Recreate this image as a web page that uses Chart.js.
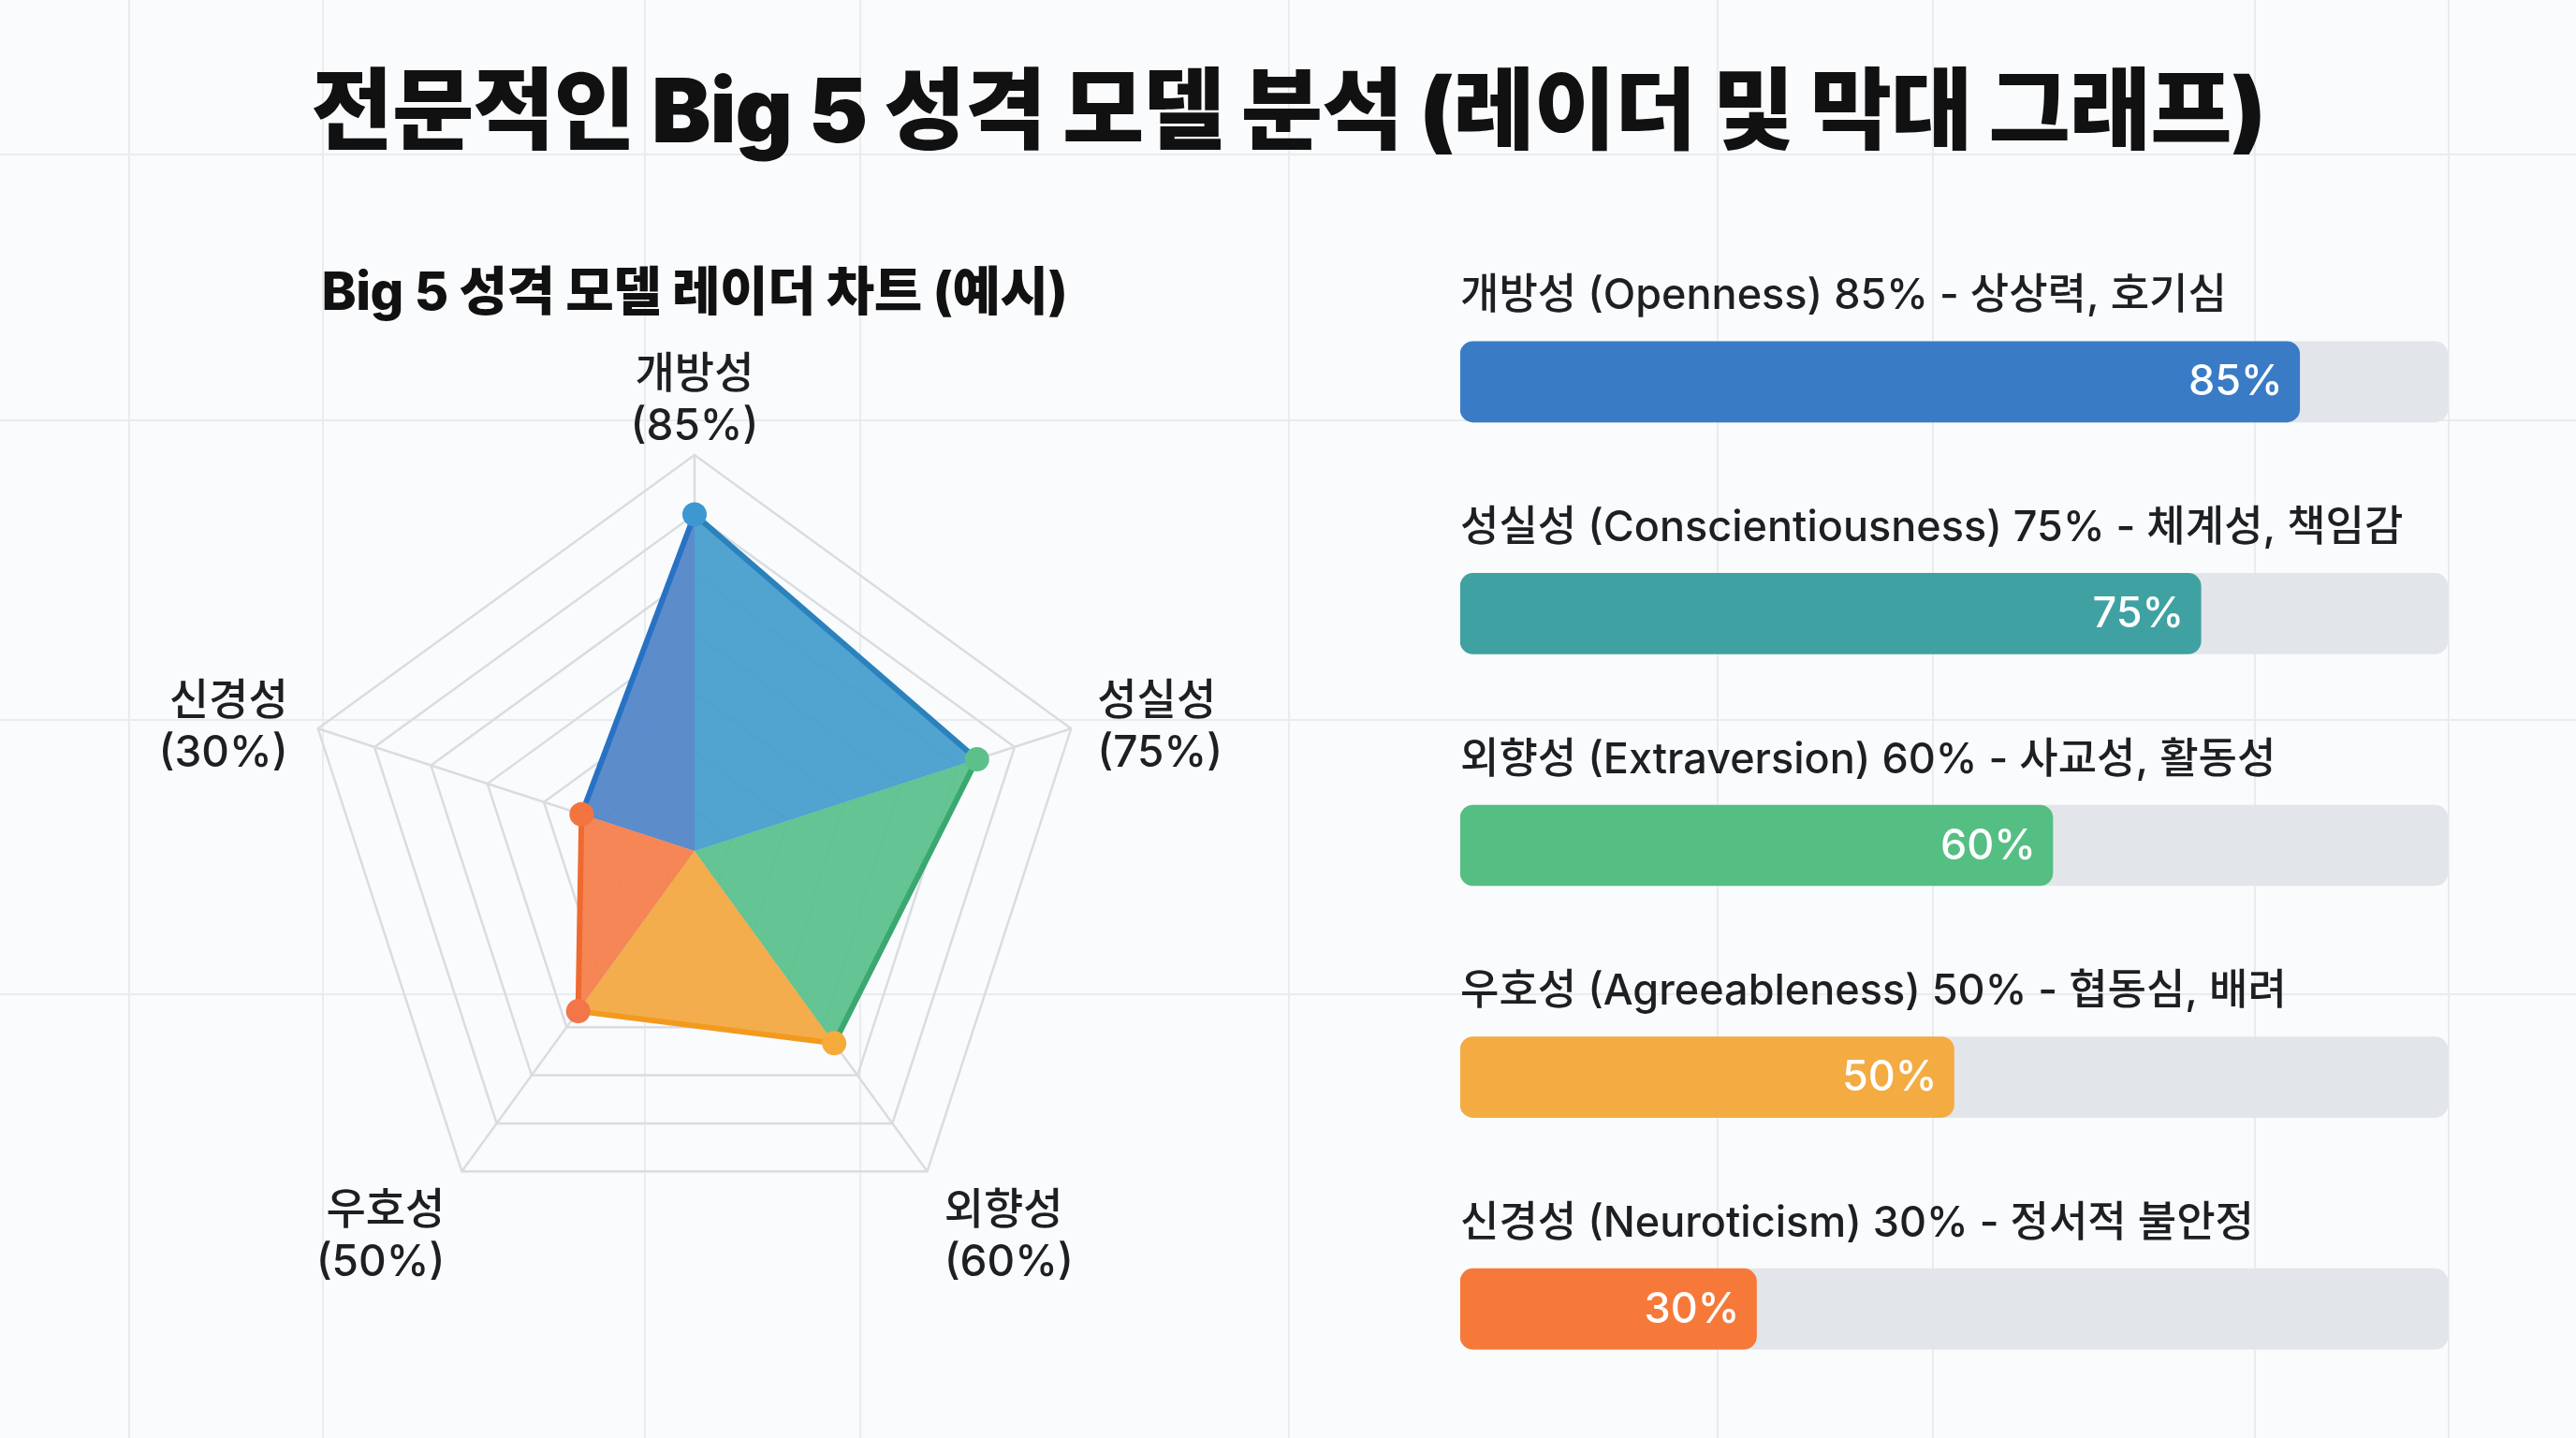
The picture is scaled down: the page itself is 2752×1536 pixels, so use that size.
<!DOCTYPE html>
<html lang="ko">
<head>
<meta charset="utf-8">
<title>전문적인 Big 5 성격 모델 분석</title>
<script src="https://cdn.jsdelivr.net/npm/chart.js@4.4.1/dist/chart.umd.min.js"></script>
<style>
    html, body { margin: 0; padding: 0; }
    body {
        width: 2752px; height: 1536px; overflow: hidden; position: relative;
        background: #fafbfc;
        font-family: Inter, "Noto Sans CJK KR", sans-serif; color: #111;
    }
    .gl { position: absolute; background: #e9ecef; }
    .gl.v { top: 0; bottom: 0; width: 2px; }
    .gl.h { left: 0; right: 0; height: 2px; }
    #title {
        position: absolute; left: 0; width: 2752px; top: 70px; margin: 0;
        text-align: center; font-size: 95px; font-weight: 900; line-height: 1;
        letter-spacing: -1px;
    }
    #radarTitle {
        position: absolute; left: 0; width: 1484px; top: 283px;
        text-align: center; font-size: 56px; font-weight: 800; line-height: 1;
        letter-spacing: -0.5px;
    }
    #radarBox { position: absolute; left: 0; top: 330px; width: 1484px; height: 1088px; }
    #barBox { position: absolute; left: 1540px; top: 240px; width: 1110px; height: 1296px; }
</style>
</head>
<body>
<div class="gl v" style="left:137px"></div>
<div class="gl v" style="left:344px"></div>
<div class="gl v" style="left:688px"></div>
<div class="gl v" style="left:918px"></div>
<div class="gl v" style="left:1376px"></div>
<div class="gl v" style="left:1834px"></div>
<div class="gl v" style="left:2064px"></div>
<div class="gl v" style="left:2408px"></div>
<div class="gl v" style="left:2615px"></div>
<div class="gl h" style="top:164px"></div>
<div class="gl h" style="top:448px"></div>
<div class="gl h" style="top:768px"></div>
<div class="gl h" style="top:1061px"></div>

<h1 id="title">전문적인 Big 5 성격 모델 분석 (레이더 및 막대 그래프)</h1>
<div id="radarTitle">Big 5 성격 모델 레이더 차트 (예시)</div>
<div id="radarBox"><canvas id="radarChart"></canvas></div>
<div id="barBox"><canvas id="barChart"></canvas></div>

<script>
// data
const traitKo = ['개방성', '성실성', '외향성', '우호성', '신경성'];
const traitEn = ['Openness', 'Conscientiousness', 'Extraversion', 'Agreeableness', 'Neuroticism'];
const traitValues = [85, 75, 60, 50, 30];
const traitKeywords = ['상상력, 호기심', '체계성, 책임감', '사교성, 활동성', '협동심, 배려', '정서적 불안정'];
const radarRings = [0, 10, 25, 40, 55, 70, 85, 100];
const trackMax = [100, 100, 100, 100, 100];

// colours
const sectorColors = ['rgba(72,158,206,0.95)', 'rgba(92,193,141,0.95)', 'rgba(243,169,66,0.95)',
    'rgba(245,128,76,0.95)', 'rgba(84,134,200,0.95)'];
const outlineColors = ['#2a82bd', '#3aa86f', '#f29a1e', '#ee6a30', '#2772c4'];
const pointColors = ['#3d97d0', '#5cc08a', '#f5ab3a', '#f2764a', '#f2753f'];
const barColors = ['#3a7bc6', '#3fa1a2', '#55be83', '#f3ab42', '#f6793a'];
const trackColor = '#e2e5e9';
const radarFont = '500 46px Inter, "Noto Sans CJK KR", sans-serif';
const barFont = '500 45px Inter, "Noto Sans CJK KR", sans-serif';

// one triangle per pair of neighbouring axes
const sectorSets = traitValues.map((v, i) => ({
    data: traitValues.map((val, j) => (j === i || j === (i + 1) % traitValues.length) ? val : 0),
    backgroundColor: sectorColors[i],
    borderColor: 'transparent',
    borderWidth: 0,
    fill: true,
    pointRadius: 0,
}));

// coloured outline, one colour per edge, drawn under the points of dataset 0
const edgePlugin = {
    id: 'edges',
    beforeDatasetDraw(chart, args) {
        if (args.index !== 0) return;
        const pts = args.meta.data;
        const ctx = chart.ctx;
        ctx.save();
        ctx.lineWidth = 6;
        ctx.lineCap = 'round';
        pts.forEach((p, i) => {
            const q = pts[(i + 1) % pts.length];
            ctx.strokeStyle = outlineColors[i];
            ctx.beginPath();
            ctx.moveTo(p.x, p.y);
            ctx.lineTo(q.x, q.y);
            ctx.stroke();
        });
        ctx.restore();
    }
};

const radarLabelPlugin = {
    id: 'radarLabels',
    afterDraw(chart) {
        const r = chart.scales.r;
        const ctx = chart.ctx;
        ctx.save();
        ctx.font = radarFont;
        ctx.fillStyle = '#1d1f23';
        ctx.textBaseline = 'middle';
        const lh = 56;
        traitKo.forEach((name, i) => {
            const lines = [name, '(' + traitValues[i] + '%)'];
            const p = r.getPointPosition(i, r.drawingArea);
            let x = p.x, y0 = p.y;
            if (i === 0) {
                ctx.textAlign = 'center';
                y0 = p.y - 86;
            } else if (i === 1) {
                ctx.textAlign = 'left';
                x = p.x + 28; y0 = p.y - 29;
            } else if (i === 2) {
                ctx.textAlign = 'left';
                x = p.x + 18; y0 = p.y + 42;
            } else if (i === 3) {
                ctx.textAlign = 'right';
                x = p.x - 18; y0 = p.y + 42;
            } else {
                ctx.textAlign = 'right';
                x = p.x - 32; y0 = p.y - 29;
            }
            lines.forEach((t, k) => ctx.fillText(t, x, y0 + k * lh));
        });
        ctx.restore();
    }
};

new Chart(document.getElementById('radarChart'), {
    type: 'radar',
    data: {
        labels: traitKo,
        datasets: [{
            data: traitValues,
            fill: false,
            borderWidth: 1,
            borderColor: 'transparent',
            pointRadius: 13,
            pointBorderWidth: 0,
            pointBackgroundColor: pointColors,
            pointBorderColor: pointColors,
        }, ...sectorSets]
    },
    options: {
        responsive: true,
        maintainAspectRatio: false,
        animation: false,
        layout: { padding: { top: 156, bottom: 86 } },
        elements: { line: { tension: 0 } },
        plugins: { legend: { display: false }, tooltip: { enabled: false } },
        scales: {
            r: {
                min: 0,
                max: 100,
                afterBuildTicks: s => { s.ticks = radarRings.map(v => ({ value: v })); },
                ticks: { display: false },
                grid: { color: '#d9dce1', lineWidth: 2.5 },
                angleLines: { color: '#d9dce1', lineWidth: 2.5 },
                pointLabels: { display: false },
            }
        }
    },
    plugins: [edgePlugin, radarLabelPlugin]
});

const barLabels = traitKo.map((k, i) => `${k} (${traitEn[i]}) ${traitValues[i]}% - ${traitKeywords[i]}`);

const barTextPlugin = {
    id: 'barText',
    afterDatasetsDraw(chart) {
        const ctx = chart.ctx;
        const xs = chart.scales.x, ys = chart.scales.y;
        ctx.save();
        ctx.font = barFont;
        ctx.textBaseline = 'middle';
        barLabels.forEach((label, i) => {
            const yc = ys.getPixelForValue(i);
            ctx.fillStyle = '#1d1f23';
            ctx.textAlign = 'left';
            ctx.fillText(label, chart.chartArea.left, yc - 91);
            ctx.fillStyle = '#ffffff';
            ctx.textAlign = 'right';
            ctx.fillText(traitValues[i] + '%', xs.getPixelForValue(traitValues[i]) - 18, yc + 1);
        });
        ctx.restore();
    }
};

new Chart(document.getElementById('barChart'), {
    type: 'bar',
    data: {
        labels: barLabels,
        datasets: [{
            data: traitValues,
            backgroundColor: barColors,
            borderRadius: 14,
            borderSkipped: false,
            grouped: false,
            barThickness: 86,
        }, {
            data: trackMax,
            backgroundColor: trackColor,
            borderRadius: 14,
            borderSkipped: false,
            grouped: false,
            barThickness: 86,
        }]
    },
    options: {
        indexAxis: 'y',
        responsive: true,
        maintainAspectRatio: false,
        animation: false,
        layout: { padding: { left: 20, right: 35, top: 44, bottom: 14 } },
        scales: {
            x: { min: 0, max: 100, display: false },
            y: { display: false },
        },
        plugins: { legend: { display: false }, tooltip: { enabled: false } }
    },
    plugins: [barTextPlugin]
});
</script>
</body>
</html>
